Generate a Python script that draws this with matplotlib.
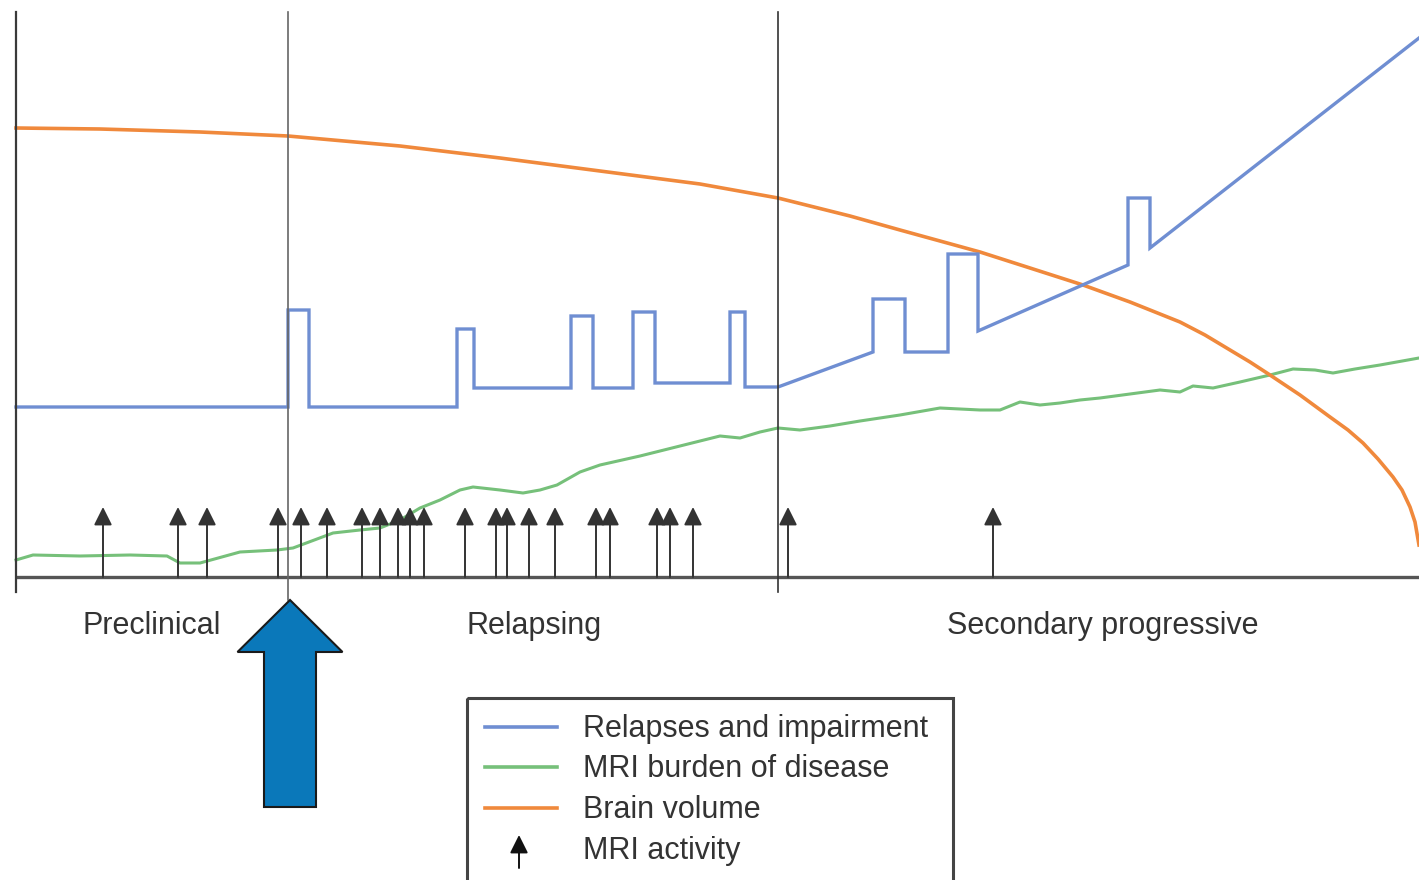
import matplotlib
matplotlib.use("Agg")
import matplotlib.pyplot as plt
from matplotlib.patches import Rectangle

plt.rcParams['font.family'] = ['Liberation Sans', 'DejaVu Sans']

# ---- data (schematic units: x = disease time, y = screen level, top = 0) ----
phase_labels = ["Preclinical", "Relapsing", "Secondary progressive"]
phase_label_x = [152, 534, 1103]
phase_bounds = [16, 288, 778]

relapse_x = [16, 288, 288, 309, 309, 457, 457, 474, 474, 571, 571, 593, 593,
             633, 633, 655, 655, 730, 730, 745, 745, 778, 873, 873, 905, 905,
             948, 948, 978, 978, 1128, 1128, 1150, 1150, 1419]
relapse_y = [407, 407, 310, 310, 407, 407, 329, 329, 388, 388, 316, 316, 388,
             388, 312, 312, 383, 383, 312, 312, 387, 387, 352, 299, 299, 352,
             352, 254, 254, 331, 265, 198, 198, 248, 38]

mri_x = [16, 33, 80, 130, 167, 180, 200, 240, 277, 293, 333, 360, 380, 400,
         420, 440, 460, 473, 500, 523, 540, 557, 580, 600, 640, 680, 720, 740,
         760, 778, 800, 830, 860, 900, 940, 980, 1000, 1020, 1040, 1060, 1080,
         1100, 1130, 1160, 1180, 1193, 1213, 1240, 1270, 1293, 1315, 1333,
         1355, 1380, 1419]
mri_y = [560, 555, 556, 555, 556, 563, 563, 552, 550, 548, 533, 530, 528, 520,
         508, 500, 490, 487, 490, 493, 490, 485, 472, 465, 456, 446, 436, 438,
         432, 428, 430, 426, 421, 415, 408, 410, 410, 402, 405, 403, 400, 398,
         394, 390, 392, 386, 388, 382, 375, 369, 370, 373, 369, 365, 358]

brain_x = [16, 100, 200, 288, 400, 500, 600, 700, 778, 850, 900, 980, 1030,
           1083, 1130, 1150, 1180, 1205, 1230, 1250, 1270, 1300, 1315, 1330,
           1348, 1363, 1378, 1393, 1402, 1410, 1415, 1419]
brain_y = [128, 129, 132, 136, 146, 158, 171, 184, 198, 216, 230, 252, 268,
           285, 302, 310, 322, 335, 350, 362, 375, 395, 406, 417, 430, 443,
           459, 477, 490, 507, 522, 545]

activity_x = [103, 178, 207, 278, 301, 327, 362, 380, 398, 410, 424, 465, 496,
              507, 529, 555, 596, 610, 657, 670, 693, 788, 993]

legend_labels = ["Relapses and impairment", "MRI burden of disease",
                 "Brain volume", "MRI activity"]

# ---- styles ----
c_blue = '#6f8ed2'
c_green = '#76c07a'
c_orange = '#f0893c'
c_axis = '#3a3a3a'

fig = plt.figure(figsize=(14.19, 8.8), dpi=100)
ax = fig.add_axes([0, 0, 1, 1])
ax.set_xlim(0, 1419)
ax.set_ylim(880, 0)
ax.axis('off')

baseline = 577
top = 12
# axes
ax.plot([phase_bounds[0], 1419], [baseline, baseline], color='#555555', lw=2.4,
        solid_capstyle='butt', zorder=3)
ax.plot([phase_bounds[0]] * 2, [top, 592], color=c_axis, lw=1.6, zorder=3)
ax.plot([phase_bounds[1]] * 2, [top, 600], color='#666666', lw=1.2, zorder=3)
ax.plot([phase_bounds[2]] * 2, [top, 592], color='#333333', lw=1.2, zorder=3)

# series
ax.plot(mri_x, mri_y, color=c_green, lw=2.2, zorder=2)
ax.plot(brain_x, brain_y, color=c_orange, lw=2.6, zorder=2,
        solid_joinstyle='round')
ax.plot(relapse_x, relapse_y, color=c_blue, lw=2.4, zorder=2,
        solid_joinstyle='miter')

# MRI activity arrows
for xa in activity_x:
    ax.annotate('', xy=(xa, 507), xytext=(xa, baseline),
                arrowprops=dict(arrowstyle='-|>,head_length=1.1,head_width=0.55',
                                mutation_scale=10, lw=1.4, color='#333333',
                                shrinkA=0, shrinkB=0), zorder=4)

# phase labels
for lab, xl in zip(phase_labels, phase_label_x):
    ax.text(xl, 626, lab, ha='center', va='center', fontsize=22, color='#333333')

# big blue arrow
ax.arrow(290, 807, 0, -207, width=52, head_width=105, head_length=52,
         length_includes_head=True, fc='#0a78ba', ec='#1a1a1a', lw=1.5, zorder=5)

# legend box
ax.add_patch(Rectangle((467, 698), 486, 200, fill=False, ec='#444444', lw=2.2,
                       zorder=5))
leg_y = [727, 767, 808, 849]
for col, yl in zip([c_blue, c_green, c_orange], leg_y[:3]):
    ax.plot([485, 557], [yl, yl], color=col, lw=2.6, zorder=6)
ax.annotate('', xy=(519, 835), xytext=(519, 868),
            arrowprops=dict(arrowstyle='-|>,head_length=1.1,head_width=0.55',
                            mutation_scale=10, lw=1.4, color='#111111',
                            shrinkA=0, shrinkB=0), zorder=6)
for lab, yl in zip(legend_labels, leg_y):
    ax.text(583, yl + 2, lab, ha='left', va='center', fontsize=22,
            color='#333333', zorder=6)

fig.savefig('out.png', dpi=100, facecolor='white')
